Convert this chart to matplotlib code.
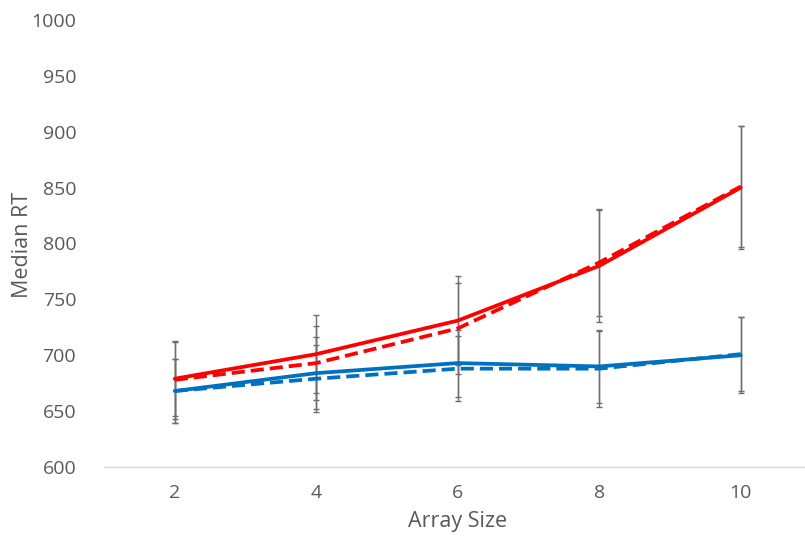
import numpy as np
import matplotlib.pyplot as plt

# data
array_size = [2, 4, 6, 8, 10]

red_solid = [679, 701, 731, 780, 850]
red_solid_err = [33, 35, 40, 50, 55]
red_dashed = [678, 693, 724, 783, 851]
red_dashed_err = [35, 33, 41, 48, 54]

blue_solid = [668, 684, 693, 690, 700]
blue_solid_err = [29, 32, 30, 33, 34]
blue_dashed = [668, 679, 688, 688, 701]
blue_dashed_err = [29, 30, 29, 34, 33]

yticks = [600, 650, 700, 750, 800, 850, 900, 950, 1000]

RED = "#FF0000"
BLUE = "#0070C0"
ERR = "#6e6e6e"
TXT = "#595959"

plt.rcParams['font.family'] = ['Open Sans', 'DejaVu Sans']

fig = plt.figure(figsize=(8.05, 5.4), dpi=100)
ax = fig.add_axes([104 / 805, 73 / 540, 701 / 805, 447 / 540])

series = [
    (red_solid, red_solid_err, RED, "-"),
    (red_dashed, red_dashed_err, RED, (0, (3.5, 1.6))),
    (blue_solid, blue_solid_err, BLUE, "-"),
    (blue_dashed, blue_dashed_err, BLUE, (0, (3.5, 1.6))),
]

# error bars first, lines on top
for vals, err, col, ls in series:
    ax.errorbar(array_size, vals, yerr=err, fmt="none", ecolor=ERR,
                elinewidth=1.0, capsize=2.5, capthick=1.0, zorder=2)
for vals, err, col, ls in series:
    ax.plot(array_size, vals, color=col, linestyle=ls, linewidth=2.7,
            solid_capstyle="round", zorder=3)

ax.set_xlim(1, 1 + 701 / 70.75)
ax.set_ylim(600, 1000)
ax.set_xticks(array_size)
ax.set_yticks(yticks)
ax.tick_params(axis="both", length=0, labelsize=14, colors=TXT)
ax.tick_params(axis="y", pad=20)
ax.tick_params(axis="x", pad=12)

for s in ["top", "right", "left"]:
    ax.spines[s].set_visible(False)
ax.spines["bottom"].set_color("#d9d9d9")
ax.spines["bottom"].set_linewidth(1.0)

ax.set_xlabel("Array Size", fontsize=15.5, color=TXT)
ax.set_ylabel("Median RT", fontsize=15.5, color=TXT)
ax.xaxis.set_label_coords((458 - 104) / 701, -44 / 447)
ax.yaxis.set_label_coords(-(104 - 33) / 701, (467 - 245) / 447)

fig.savefig("out.png", dpi=100)
